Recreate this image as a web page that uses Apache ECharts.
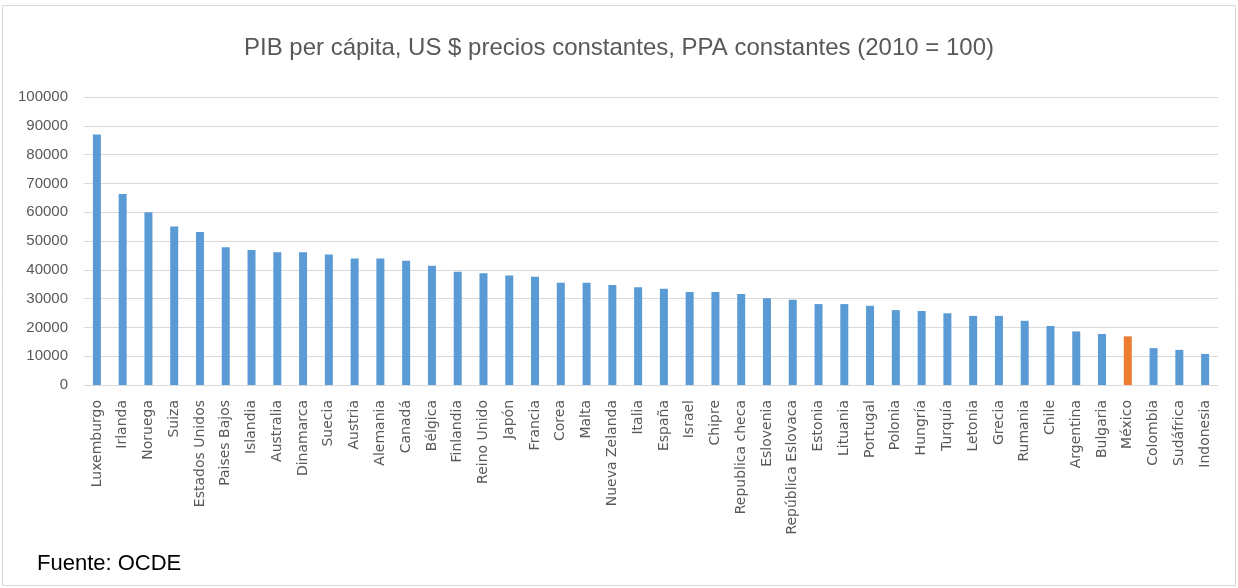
<!DOCTYPE html>
<html><head><meta charset="utf-8">
<script src="https://cdn.jsdelivr.net/npm/echarts@6/dist/echarts.min.js"></script>
<style>html,body{margin:0;padding:0;background:#fff}#c{width:1238px;height:588px}</style>
</head><body><div id="c"></div>
<script>
const categories = ["Luxemburgo","Irlanda","Noruega","Suiza","Estados Unidos","Paises Bajos","Islandia","Australia","Dinamarca","Suecia","Austria","Alemania","Canadá","Bélgica","Finlandia","Reino Unido","Japón","Francia","Corea","Malta","Nueva Zelanda","Italia","España","Israel","Chipre","Republica checa","Eslovenia","República Eslovaca","Estonia","Lituania","Portugal","Polonia","Hungría","Turquía","Letonia","Grecia","Rumania","Chile","Argentina","Bulgaria","México","Colombia","Sudáfrica","Indonesia"];
const values = [87000,66300,60000,55000,53100,47800,46900,46100,46100,45300,43900,43900,43100,41400,39300,38800,38000,37600,35500,35500,34700,33900,33400,32300,32300,31600,30100,29600,28100,28100,27500,26000,25700,24900,24000,24000,22300,20500,18600,17700,16900,12800,12200,10800];
const highlight = "México";
const yTicks = [0,10000,20000,30000,40000,50000,60000,70000,80000,90000,100000];
const titleText = "PIB per cápita, US $ precios constantes, PPA constantes (2010 = 100)";
const sourceText = "Fuente: OCDE";

const chart = echarts.init(document.getElementById('c'), null, {renderer:'canvas'});
chart.setOption({
  animation:false,
  backgroundColor:'#fff',
  title:{text:titleText,left:'center',top:31,textStyle:{fontFamily:'Liberation Sans',fontSize:24,fontWeight:'normal',color:'#595959'}},
  graphic:[
    {type:'rect',shape:{x:2.5,y:5.5,width:1233,height:580},style:{fill:'none',stroke:'#d9d9d9',lineWidth:1},silent:true},
    {type:'text',left:37,top:553,style:{text:sourceText,font:'22px "Liberation Sans"',fill:'#000'}}
  ],
  grid:{left:84,right:20,top:97,bottom:203},
  xAxis:{type:'category',data:categories,
    axisLine:{show:true,lineStyle:{color:'#d9d9d9'}},axisTick:{show:false},
    axisLabel:{rotate:90,interval:0,fontFamily:'DejaVu Sans',fontSize:14,color:'#595959',margin:15}},
  yAxis:{type:'value',min:0,max:100000,interval:10000,
    axisLine:{show:false},axisTick:{show:false},
    splitLine:{lineStyle:{color:'#d9d9d9'}},
    axisLabel:{fontFamily:'Liberation Sans',fontSize:15,color:'#595959',margin:16,
      formatter:v=>yTicks.includes(v)?String(v):''}},
  series:[{type:'bar',barWidth:8,
    data:values.map((v,i)=>({value:v,itemStyle:{color:categories[i]===highlight?'#ED7D31':'#5B9BD5'}}))}]
});
</script></body></html>
